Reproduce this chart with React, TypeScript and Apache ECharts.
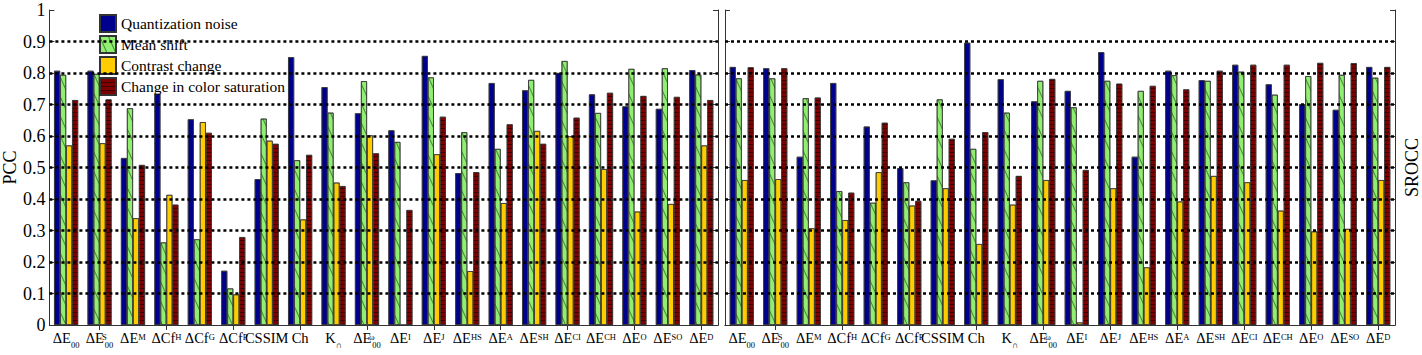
import React, { useEffect, useRef } from "react";
import * as echarts from "echarts";

const seriesNames = [
  "Quantization noise",
  "Mean shift",
  "Contrast change",
  "Change in color saturation",
];

// category label parts: main text, superscript, subscript
const catMain = ["ΔE", "ΔE", "ΔE", "ΔCf", "ΔCf", "ΔCf", "CSSIM", "Ch", "K", "ΔE", "ΔE", "ΔE", "ΔE", "ΔE", "ΔE", "ΔE", "ΔE", "ΔE", "ΔE", "ΔE"];
const catSup = ["", "S", "M", "H", "G", "P", "", "", "", "ω", "I", "J", "HS", "A", "SH", "CI", "CH", "O", "SO", "D"];
const catSub = ["00", "00", "", "", "", "", "", "", "∩", "00", "", "", "", "", "", "", "", "", "", ""];
const categories = catMain.map((m, i) => m + catSub[i] + (catSup[i] ? "^" + catSup[i] : ""));

// PCC (left panel)
const pccQuant = [0.807, 0.807, 0.53, 0.734, 0.653, 0.172, 0.463, 0.85, 0.755, 0.672, 0.618, 0.854, 0.482, 0.768, 0.745, 0.8, 0.732, 0.694, 0.686, 0.809];
const pccMean = [0.794, 0.797, 0.688, 0.262, 0.272, 0.116, 0.655, 0.523, 0.674, 0.774, 0.581, 0.786, 0.612, 0.559, 0.778, 0.838, 0.673, 0.813, 0.815, 0.795];
const pccContrast = [0.57, 0.577, 0.339, 0.413, 0.644, 0.097, 0.585, 0.335, 0.452, 0.602, 0.0, 0.542, 0.171, 0.387, 0.616, 0.599, 0.495, 0.36, 0.384, 0.57];
const pccSat = [0.714, 0.716, 0.508, 0.382, 0.61, 0.279, 0.575, 0.54, 0.441, 0.545, 0.365, 0.661, 0.485, 0.637, 0.575, 0.658, 0.737, 0.727, 0.724, 0.714];

// SROCC (right panel)
const srQuant = [0.819, 0.815, 0.534, 0.768, 0.63, 0.498, 0.459, 0.896, 0.78, 0.71, 0.743, 0.866, 0.534, 0.807, 0.777, 0.826, 0.764, 0.701, 0.683, 0.819];
const srMean = [0.783, 0.783, 0.72, 0.425, 0.388, 0.453, 0.716, 0.559, 0.674, 0.775, 0.691, 0.775, 0.743, 0.793, 0.775, 0.804, 0.731, 0.79, 0.794, 0.785];
const srContrast = [0.46, 0.463, 0.307, 0.333, 0.485, 0.379, 0.434, 0.257, 0.382, 0.46, 0.008, 0.434, 0.183, 0.392, 0.473, 0.453, 0.363, 0.297, 0.305, 0.46];
const srSat = [0.818, 0.815, 0.722, 0.42, 0.642, 0.394, 0.591, 0.612, 0.473, 0.781, 0.492, 0.766, 0.759, 0.748, 0.807, 0.826, 0.826, 0.832, 0.831, 0.819];

const gridTicks = [0.1, 0.2, 0.3, 0.4, 0.5, 0.6, 0.7, 0.8, 0.9];

const FONT = "'Liberation Serif', 'DejaVu Serif', serif";
const colors = ["#00008F", "#90EE70", "#FFCC00", "#800000"];

const decals: any[] = [
  { symbol: "none" },
  {
    symbol: "rect",
    symbolSize: 1,
    color: "rgba(20,70,20,0.6)",
    dashArrayX: [1, 0],
    dashArrayY: [1, 7],
    rotation: 1.15,
  },
  { symbol: "none" },
  {
    symbol: "rect",
    symbolSize: 1,
    color: "rgba(0,0,0,0.5)",
    dashArrayX: [1, 0],
    dashArrayY: [1, 3],
    rotation: 0,
  },
];

function labelFormatter(_v: string, i: number) {
  const main = catMain[i];
  const sup = catSup[i];
  const sub = catSub[i];
  let s = `{m|${main}}`;
  if (sup && sub) s += `{p|${sup}}{d|${sub}}`;
  else if (sup) s += `{u|${sup}}`;
  else if (sub) s += `{d|${sub}}`;
  return s;
}

const rich = {
  m: { fontSize: 14.5, fontFamily: FONT, color: "#000", lineHeight: 22 },
  u: { fontSize: 8.5, fontFamily: FONT, color: "#000", lineHeight: 9, verticalAlign: "top", padding: [5, 0, 0, 0] },
  p: { fontSize: 8.5, fontFamily: FONT, color: "#000", lineHeight: 9, verticalAlign: "top", padding: [5, 0, 0, 0], width: 1 },
  d: { fontSize: 8.5, fontFamily: FONT, color: "#000", lineHeight: 9, verticalAlign: "bottom" },
};

export default function App() {
  const ref = useRef<HTMLDivElement>(null);
  useEffect(() => {
    if (!ref.current) return;
    const chart = echarts.init(ref.current, null, { renderer: "svg" });
    const panels = [
      [pccQuant, pccMean, pccContrast, pccSat],
      [srQuant, srMean, srContrast, srSat],
    ];
    const series: any[] = [];
    panels.forEach((vals, p) => {
      vals.forEach((arr, k) => {
        series.push({
          type: "bar",
          name: seriesNames[k],
          xAxisIndex: p * 2,
          yAxisIndex: p * 2,
          data: arr,
          barWidth: 6,
          barGap: "0%",
          itemStyle: {
            color: colors[k],
            borderColor: "#333",
            borderWidth: 0.7,
            decal: decals[k],
          },
        });
      });
      series.push({
        type: "line",
        name: "grid" + p,
        xAxisIndex: p * 2,
        yAxisIndex: p * 2,
        data: [],
        z: 6,
        silent: true,
        markLine: {
          silent: true,
          symbol: ["none", "none"],
          label: { show: false },
          lineStyle: { color: "#000", width: 2.5, type: [3, 3] },
          data: gridTicks.map((v) => ({ yAxis: v })),
          z: 6,
        },
      });
    });

    const grids = [
      { left: 46, right: 704, top: 10, bottom: 30 },
      { left: 725, right: 24, top: 10, bottom: 30 },
    ];
    const xAxes: any[] = [];
    grids.forEach((_, g) => {
      xAxes.push({
        type: "category",
        gridIndex: g,
        data: categories,
        position: "bottom",
        axisLine: { show: true, lineStyle: { color: "#333", width: 1 } },
        axisTick: { show: false },
        axisLabel: {
          interval: 0,
          margin: 2,
          formatter: labelFormatter,
          rich,
        },
      });
      xAxes.push({
        type: "category",
        gridIndex: g,
        data: categories,
        position: "top",
        axisLine: { show: true, lineStyle: { color: "#333", width: 1 } },
        axisTick: {
          show: true,
          inside: true,
          length: 5,
          alignWithLabel: true,
          interval: (i: number) => i % 2 === 1,
          lineStyle: { color: "#333" },
        },
        axisLabel: { show: false },
      });
    });
    const yBase = {
      type: "value",
      min: 0,
      max: 1,
      interval: 0.1,
      splitLine: { show: false },
      axisLine: { show: true, lineStyle: { color: "#333", width: 1 } },
      axisTick: { show: true, inside: true, length: 5, lineStyle: { color: "#333" } },
    };
    const yAxes: any[] = [
      {
        ...yBase,
        gridIndex: 0,
        position: "left",
        name: "PCC",
        nameLocation: "middle",
        nameGap: 30,
        nameRotate: 90,
        nameTextStyle: { fontFamily: FONT, fontSize: 18, color: "#000" },
        axisLabel: {
          margin: 4,
          fontFamily: FONT,
          fontSize: 18,
          color: "#000",
          formatter: (v: number) => (v === 0 ? "0" : v === 1 ? "1" : v.toFixed(1)),
        },
      },
      { ...yBase, gridIndex: 0, position: "right", axisLabel: { show: false } },
      { ...yBase, gridIndex: 1, position: "left", axisLabel: { show: false } },
      {
        ...yBase,
        gridIndex: 1,
        position: "right",
        axisLabel: { show: false },
        name: "SROCC",
        nameLocation: "middle",
        nameGap: 8,
        nameRotate: 90,
        nameTextStyle: { fontFamily: FONT, fontSize: 18, color: "#000" },
      },
    ];

    chart.setOption({
      animation: false,
      backgroundColor: "#fff",
      grid: grids,
      xAxis: xAxes,
      yAxis: yAxes,
      legend: {
        data: seriesNames,
        orient: "vertical",
        left: 99,
        top: 14,
        padding: 0,
        itemWidth: 16,
        itemHeight: 17,
        itemGap: 2,
        icon: "rect",
        textStyle: { fontFamily: FONT, fontSize: 15.5, color: "#000", lineHeight: 17 },
        selectedMode: false,
      },
      series,
    });
    return () => chart.dispose();
  }, []);
  return (
    <div
      ref={ref}
      style={{ position: "fixed", left: 0, top: 0, width: 1422, height: 355 }}
    />
  );
}
